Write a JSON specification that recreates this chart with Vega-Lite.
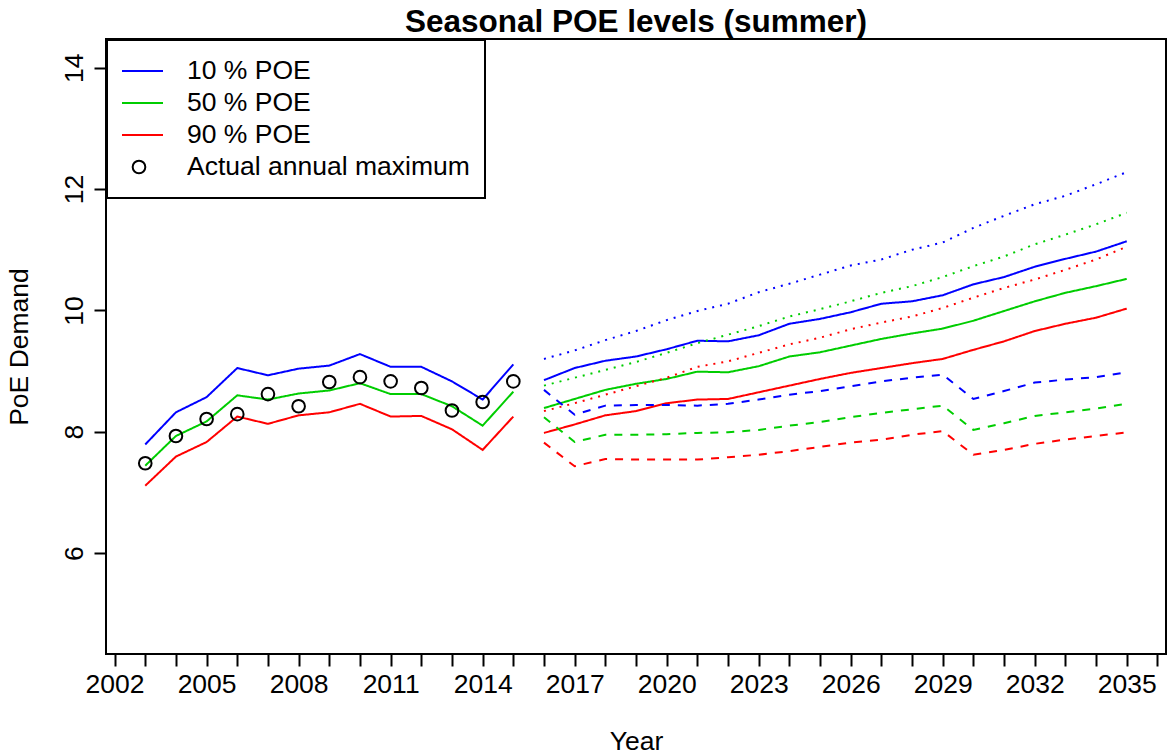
{
  "$schema": "https://vega.github.io/schema/vega-lite/v6.json",
  "width": 1060,
  "height": 615,
  "autosize": {"type": "none"},
  "padding": {"left": 106, "top": 39, "right": 2, "bottom": 102},
  "background": "white",
  "title": {"text": "Seasonal POE levels (summer)", "fontSize": 31.5, "fontWeight": "bold", "font": "Liberation Sans", "color": "black", "anchor": "middle", "offset": 1},
  "config": {
    "font": "Liberation Sans",
    "view": {"stroke": "black", "strokeWidth": 2}
  },
  "datasets": {
    "poe": [
      {"year": 2003, "kind": "hist", "10 % POE": 7.79, "50 % POE": 7.44, "90 % POE": 7.11},
      {"year": 2004, "kind": "hist", "10 % POE": 8.32, "50 % POE": 7.93, "90 % POE": 7.59},
      {"year": 2005, "kind": "hist", "10 % POE": 8.57, "50 % POE": 8.17, "90 % POE": 7.83},
      {"year": 2006, "kind": "hist", "10 % POE": 9.05, "50 % POE": 8.60, "90 % POE": 8.25},
      {"year": 2007, "kind": "hist", "10 % POE": 8.93, "50 % POE": 8.53, "90 % POE": 8.13},
      {"year": 2008, "kind": "hist", "10 % POE": 9.04, "50 % POE": 8.63, "90 % POE": 8.27},
      {"year": 2009, "kind": "hist", "10 % POE": 9.09, "50 % POE": 8.68, "90 % POE": 8.32},
      {"year": 2010, "kind": "hist", "10 % POE": 9.28, "50 % POE": 8.80, "90 % POE": 8.46},
      {"year": 2011, "kind": "hist", "10 % POE": 9.07, "50 % POE": 8.62, "90 % POE": 8.25},
      {"year": 2012, "kind": "hist", "10 % POE": 9.07, "50 % POE": 8.62, "90 % POE": 8.26},
      {"year": 2013, "kind": "hist", "10 % POE": 8.83, "50 % POE": 8.42, "90 % POE": 8.04},
      {"year": 2014, "kind": "hist", "10 % POE": 8.53, "50 % POE": 8.10, "90 % POE": 7.70},
      {"year": 2015, "kind": "hist", "10 % POE": 9.11, "50 % POE": 8.66, "90 % POE": 8.25},
      {"year": 2016, "kind": "forecast", "10 % POE": 8.85, "50 % POE": 8.39, "90 % POE": 7.98},
      {"year": 2017, "kind": "forecast", "10 % POE": 9.05, "50 % POE": 8.54, "90 % POE": 8.12},
      {"year": 2018, "kind": "forecast", "10 % POE": 9.17, "50 % POE": 8.69, "90 % POE": 8.27},
      {"year": 2019, "kind": "forecast", "10 % POE": 9.24, "50 % POE": 8.79, "90 % POE": 8.34},
      {"year": 2020, "kind": "forecast", "10 % POE": 9.36, "50 % POE": 8.87, "90 % POE": 8.47},
      {"year": 2021, "kind": "forecast", "10 % POE": 9.50, "50 % POE": 8.99, "90 % POE": 8.53},
      {"year": 2022, "kind": "forecast", "10 % POE": 9.49, "50 % POE": 8.98, "90 % POE": 8.54},
      {"year": 2023, "kind": "forecast", "10 % POE": 9.59, "50 % POE": 9.08, "90 % POE": 8.65},
      {"year": 2024, "kind": "forecast", "10 % POE": 9.78, "50 % POE": 9.24, "90 % POE": 8.76},
      {"year": 2025, "kind": "forecast", "10 % POE": 9.86, "50 % POE": 9.31, "90 % POE": 8.87},
      {"year": 2026, "kind": "forecast", "10 % POE": 9.97, "50 % POE": 9.42, "90 % POE": 8.97},
      {"year": 2027, "kind": "forecast", "10 % POE": 10.11, "50 % POE": 9.53, "90 % POE": 9.05},
      {"year": 2028, "kind": "forecast", "10 % POE": 10.15, "50 % POE": 9.62, "90 % POE": 9.13},
      {"year": 2029, "kind": "forecast", "10 % POE": 10.25, "50 % POE": 9.70, "90 % POE": 9.20},
      {"year": 2030, "kind": "forecast", "10 % POE": 10.43, "50 % POE": 9.83, "90 % POE": 9.35},
      {"year": 2031, "kind": "forecast", "10 % POE": 10.55, "50 % POE": 9.99, "90 % POE": 9.49},
      {"year": 2032, "kind": "forecast", "10 % POE": 10.72, "50 % POE": 10.15, "90 % POE": 9.66},
      {"year": 2033, "kind": "forecast", "10 % POE": 10.85, "50 % POE": 10.29, "90 % POE": 9.78},
      {"year": 2034, "kind": "forecast", "10 % POE": 10.97, "50 % POE": 10.40, "90 % POE": 9.88},
      {"year": 2035, "kind": "forecast", "10 % POE": 11.14, "50 % POE": 10.52, "90 % POE": 10.03},
      {"year": 2016, "kind": "high", "10 % POE": 9.20, "50 % POE": 8.76, "90 % POE": 8.34},
      {"year": 2017, "kind": "high", "10 % POE": 9.34, "50 % POE": 8.89, "90 % POE": 8.47},
      {"year": 2018, "kind": "high", "10 % POE": 9.51, "50 % POE": 9.02, "90 % POE": 8.61},
      {"year": 2019, "kind": "high", "10 % POE": 9.66, "50 % POE": 9.15, "90 % POE": 8.75},
      {"year": 2020, "kind": "high", "10 % POE": 9.84, "50 % POE": 9.30, "90 % POE": 8.89},
      {"year": 2021, "kind": "high", "10 % POE": 9.99, "50 % POE": 9.46, "90 % POE": 9.07},
      {"year": 2022, "kind": "high", "10 % POE": 10.11, "50 % POE": 9.60, "90 % POE": 9.16},
      {"year": 2023, "kind": "high", "10 % POE": 10.30, "50 % POE": 9.74, "90 % POE": 9.30},
      {"year": 2024, "kind": "high", "10 % POE": 10.44, "50 % POE": 9.90, "90 % POE": 9.44},
      {"year": 2025, "kind": "high", "10 % POE": 10.59, "50 % POE": 10.02, "90 % POE": 9.55},
      {"year": 2026, "kind": "high", "10 % POE": 10.74, "50 % POE": 10.15, "90 % POE": 9.69},
      {"year": 2027, "kind": "high", "10 % POE": 10.84, "50 % POE": 10.29, "90 % POE": 9.80},
      {"year": 2028, "kind": "high", "10 % POE": 11.00, "50 % POE": 10.40, "90 % POE": 9.90},
      {"year": 2029, "kind": "high", "10 % POE": 11.12, "50 % POE": 10.55, "90 % POE": 10.04},
      {"year": 2030, "kind": "high", "10 % POE": 11.36, "50 % POE": 10.73, "90 % POE": 10.21},
      {"year": 2031, "kind": "high", "10 % POE": 11.56, "50 % POE": 10.89, "90 % POE": 10.37},
      {"year": 2032, "kind": "high", "10 % POE": 11.75, "50 % POE": 11.09, "90 % POE": 10.51},
      {"year": 2033, "kind": "high", "10 % POE": 11.89, "50 % POE": 11.25, "90 % POE": 10.67},
      {"year": 2034, "kind": "high", "10 % POE": 12.08, "50 % POE": 11.42, "90 % POE": 10.84},
      {"year": 2035, "kind": "high", "10 % POE": 12.28, "50 % POE": 11.61, "90 % POE": 11.05},
      {"year": 2016, "kind": "low", "10 % POE": 8.69, "50 % POE": 8.24, "90 % POE": 7.82},
      {"year": 2017, "kind": "low", "10 % POE": 8.28, "50 % POE": 7.83, "90 % POE": 7.43},
      {"year": 2018, "kind": "low", "10 % POE": 8.43, "50 % POE": 7.95, "90 % POE": 7.55},
      {"year": 2019, "kind": "low", "10 % POE": 8.44, "50 % POE": 7.95, "90 % POE": 7.54},
      {"year": 2020, "kind": "low", "10 % POE": 8.44, "50 % POE": 7.96, "90 % POE": 7.54},
      {"year": 2021, "kind": "low", "10 % POE": 8.43, "50 % POE": 7.98, "90 % POE": 7.54},
      {"year": 2022, "kind": "low", "10 % POE": 8.46, "50 % POE": 7.99, "90 % POE": 7.58},
      {"year": 2023, "kind": "low", "10 % POE": 8.53, "50 % POE": 8.03, "90 % POE": 7.62},
      {"year": 2024, "kind": "low", "10 % POE": 8.61, "50 % POE": 8.10, "90 % POE": 7.68},
      {"year": 2025, "kind": "low", "10 % POE": 8.67, "50 % POE": 8.16, "90 % POE": 7.75},
      {"year": 2026, "kind": "low", "10 % POE": 8.75, "50 % POE": 8.24, "90 % POE": 7.82},
      {"year": 2027, "kind": "low", "10 % POE": 8.83, "50 % POE": 8.31, "90 % POE": 7.87},
      {"year": 2028, "kind": "low", "10 % POE": 8.89, "50 % POE": 8.37, "90 % POE": 7.95},
      {"year": 2029, "kind": "low", "10 % POE": 8.94, "50 % POE": 8.43, "90 % POE": 8.01},
      {"year": 2030, "kind": "low", "10 % POE": 8.54, "50 % POE": 8.03, "90 % POE": 7.62},
      {"year": 2031, "kind": "low", "10 % POE": 8.67, "50 % POE": 8.14, "90 % POE": 7.70},
      {"year": 2032, "kind": "low", "10 % POE": 8.81, "50 % POE": 8.26, "90 % POE": 7.80},
      {"year": 2033, "kind": "low", "10 % POE": 8.86, "50 % POE": 8.32, "90 % POE": 7.87},
      {"year": 2034, "kind": "low", "10 % POE": 8.90, "50 % POE": 8.38, "90 % POE": 7.93},
      {"year": 2035, "kind": "low", "10 % POE": 8.98, "50 % POE": 8.46, "90 % POE": 7.99}
    ],
    "actual": [
      {"year": 2003, "value": 7.48, "series": "Actual annual maximum"},
      {"year": 2004, "value": 7.93, "series": "Actual annual maximum"},
      {"year": 2005, "value": 8.21, "series": "Actual annual maximum"},
      {"year": 2006, "value": 8.29, "series": "Actual annual maximum"},
      {"year": 2007, "value": 8.62, "series": "Actual annual maximum"},
      {"year": 2008, "value": 8.42, "series": "Actual annual maximum"},
      {"year": 2009, "value": 8.82, "series": "Actual annual maximum"},
      {"year": 2010, "value": 8.90, "series": "Actual annual maximum"},
      {"year": 2011, "value": 8.83, "series": "Actual annual maximum"},
      {"year": 2012, "value": 8.72, "series": "Actual annual maximum"},
      {"year": 2013, "value": 8.35, "series": "Actual annual maximum"},
      {"year": 2014, "value": 8.49, "series": "Actual annual maximum"},
      {"year": 2015, "value": 8.83, "series": "Actual annual maximum"}
    ]
  },
  "encoding": {
    "x": {
      "field": "year", "type": "quantitative",
      "scale": {"domain": [2001.72, 2036.28], "nice": false, "zero": false},
      "axis": {
        "title": "Year",
        "values": [2002,2003,2004,2005,2006,2007,2008,2009,2010,2011,2012,2013,2014,2015,2016,2017,2018,2019,2020,2021,2022,2023,2024,2025,2026,2027,2028,2029,2030,2031,2032,2033,2034,2035,2036],
        "format": "d",
        "labelExpr": "(datum.value - 2002) % 3 === 0 ? datum.label : ''",
        "grid": false, "domain": false,
        "tickSize": 12, "tickWidth": 2, "tickColor": "black",
        "labelFontSize": 26.5, "labelColor": "black", "labelPadding": 5,
        "labelOverlap": false, "labelFlush": false,
        "titleFontSize": 26.5, "titleFontWeight": "normal", "titleColor": "black", "titlePadding": 31
      }
    },
    "y": {
      "field": "value", "type": "quantitative",
      "scale": {"domain": [4.335, 14.475], "nice": false, "zero": false},
      "axis": {
        "title": "PoE Demand",
        "values": [6, 8, 10, 12, 14],
        "grid": false, "domain": false,
        "tickSize": 12, "tickWidth": 2, "tickColor": "black",
        "labelFontSize": 26.5, "labelColor": "black", "labelPadding": 6,
        "labelAngle": 270, "labelAlign": "center", "labelBaseline": "bottom",
        "labelOverlap": false, "labelFlush": false,
        "titleFontSize": 26.5, "titleFontWeight": "normal", "titleColor": "black", "titlePadding": 28
      }
    }
  },
  "layer": [
    {
      "data": {"name": "poe"},
      "transform": [{"fold": ["10 % POE", "50 % POE", "90 % POE"], "as": ["series", "value"]}],
      "mark": {"type": "line", "strokeWidth": 2, "clip": true},
      "encoding": {
        "color": {
          "field": "series", "type": "nominal",
          "scale": {"domain": ["10 % POE", "50 % POE", "90 % POE", "Actual annual maximum"], "range": ["#0000FF", "#00CD00", "#FF0000", "#000000"]},
          "legend": {
            "title": null, "orient": "none", "legendX": 1, "legendY": 1,
            "strokeColor": "black", "fillColor": "white", "padding": 15,
            "symbolType": "stroke", "symbolSize": 2304, "symbolStrokeWidth": 2, "symbolOffset": -8,
            "labelOffset": 23, "labelFontSize": 26.5, "labelColor": "black", "labelLimit": 500,
            "clipHeight": 32, "rowPadding": 0,
            "encode": {
              "legend": {"update": {"strokeWidth": {"value": 2}}},
              "symbols": {"update": {
                "shape": {"signal": "datum.value === 'Actual annual maximum' ? 'circle' : 'stroke'"},
                "size": {"signal": "datum.value === 'Actual annual maximum' ? 160 : 2304"},
                "fill": {"value": "transparent"},
                "strokeWidth": {"value": 2},
                "opacity": {"value": 1}
              }}
            }
          }
        },
        "strokeDash": {
          "field": "kind", "type": "nominal",
          "scale": {"domain": ["hist", "forecast", "high", "low"], "range": [[1, 0], [1, 0], [2, 6], [8, 8]]},
          "legend": null
        }
      }
    },
    {
      "data": {"name": "actual"},
      "mark": {"type": "point", "filled": false, "strokeWidth": 2, "size": 160, "opacity": 1},
      "encoding": {
        "color": {"field": "series", "type": "nominal"}
      }
    }
  ]
}
